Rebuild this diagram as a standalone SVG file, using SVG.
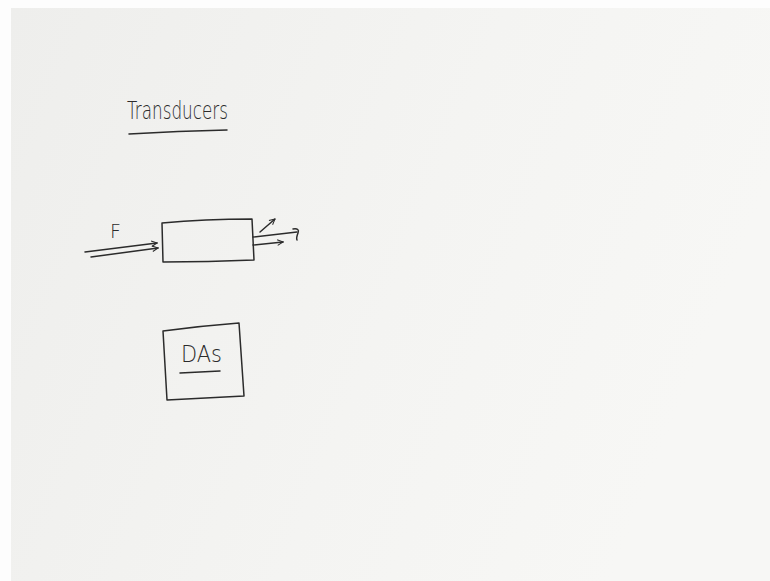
<svg xmlns="http://www.w3.org/2000/svg" width="770" height="581" viewBox="0 0 770 581">
  <defs>
    <linearGradient id="board" x1="0" y1="0" x2="1" y2="0.3">
      <stop offset="0" stop-color="#eeeeec"/>
      <stop offset="0.6" stop-color="#f4f4f2"/>
      <stop offset="1" stop-color="#f7f7f5"/>
    </linearGradient>
    <marker id="ah" viewBox="0 0 10 10" refX="9" refY="5" markerWidth="7" markerHeight="7" orient="auto" markerUnits="userSpaceOnUse">
      <path d="M1,1 L9,5 L1,9" fill="none" stroke="#2b2b2b" stroke-width="1.4"/>
    </marker>
  </defs>
  <style>
    .ink { fill: none; stroke: #2b2b2b; stroke-width: 1.5; stroke-linecap: round; stroke-linejoin: round; }
    .hand { font-family: "DejaVu Sans", "Liberation Sans", sans-serif; fill: #2b2b2b; font-weight: 300; }
  </style>
  <rect x="0" y="0" width="770" height="581" fill="#fdfdfd"/>
  <rect x="11" y="8" width="759" height="573" fill="url(#board)"/>

  <g id="title">
    <text class="hand" x="127" y="119" font-size="25" textLength="101" lengthAdjust="spacingAndGlyphs">Transducers</text>
    <path class="ink" d="M129,134 Q178,131 227,130"/>
  </g>

  <g id="transducer">
    <path class="ink" d="M162,223 Q205,219 252,219 L254,260 Q208,262 163,262 Z"/>
  </g>

  <g id="das">
    <path class="ink" d="M163,331 Q200,326 239,323 L244,396 Q205,398 167,400 Z"/>
    <text class="hand" x="181" y="362" font-size="23" textLength="41" lengthAdjust="spacingAndGlyphs">DAs</text>
    <path class="ink" d="M180,373 Q200,372 220,371"/>
  </g>

  <g id="connectors">
    <text class="hand" x="110" y="238" font-size="19">F</text>
    <path class="ink" d="M85,252 L157,243" marker-end="url(#ah)"/>
    <path class="ink" d="M91,257 L158,248" marker-end="url(#ah)"/>
    <path class="ink" d="M253,237 L297,232"/>
    <path class="ink" d="M293,229 Q300,228 298,233 Q296,238 297,240"/>
    <path class="ink" d="M253,245 L283,242" marker-end="url(#ah)"/>
    <path class="ink" d="M260,232 L275,219" marker-end="url(#ah)"/>
  </g>
</svg>
